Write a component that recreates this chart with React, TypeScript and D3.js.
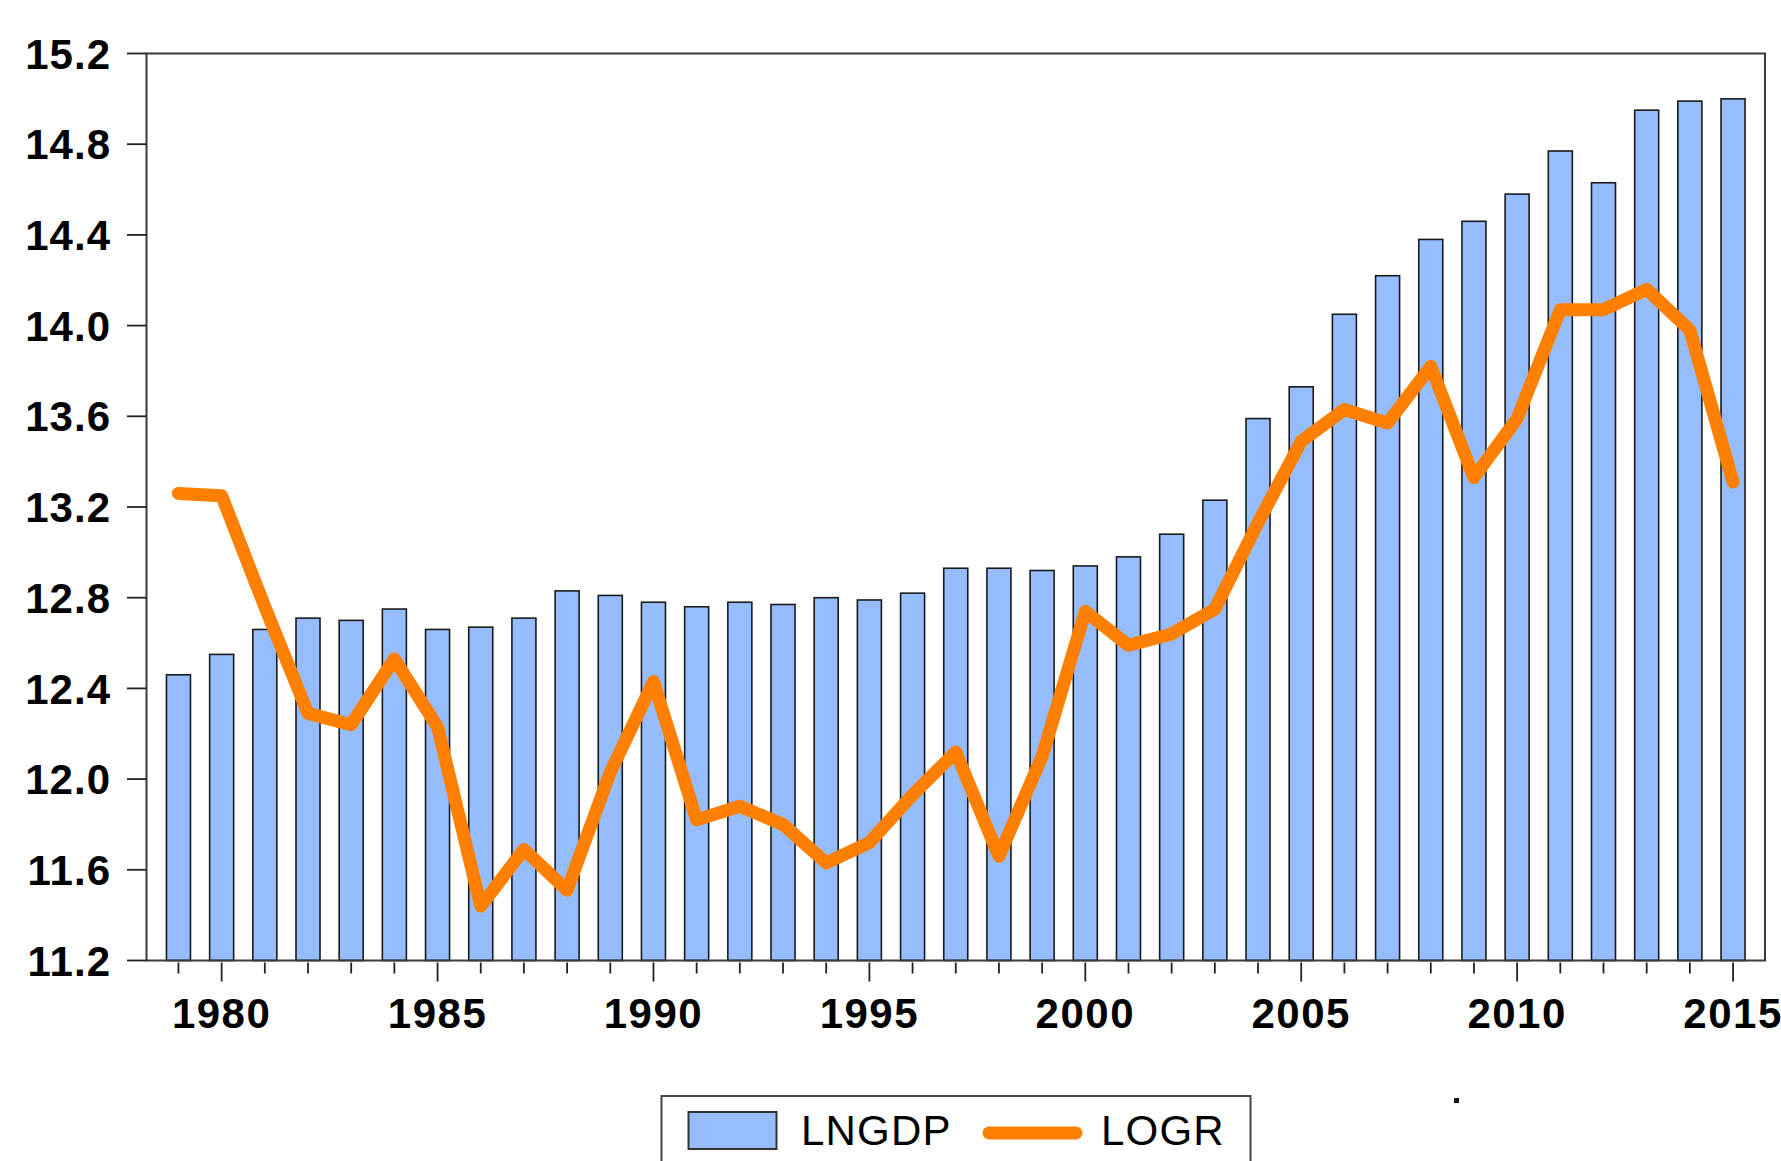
import React from "react";
import * as d3 from "d3";

const years: number[] = d3.range(1979, 2016);

const lngdp: number[] = [
  12.46, 12.55, 12.66, 12.71, 12.70, 12.75, 12.66, 12.67, 12.71, 12.83,
  12.81, 12.78, 12.76, 12.78, 12.77, 12.80, 12.79, 12.82, 12.93, 12.93,
  12.92, 12.94, 12.98, 13.08, 13.23, 13.59, 13.73, 14.05, 14.22, 14.38,
  14.46, 14.58, 14.77, 14.63, 14.95, 14.99, 15.00,
];

const logr: number[] = [
  13.26, 13.25, 12.76, 12.29, 12.24, 12.53, 12.23, 11.44, 11.69, 11.51,
  12.03, 12.43, 11.82, 11.88, 11.80, 11.63, 11.72, 11.93, 12.12, 11.66,
  12.10, 12.74, 12.59, 12.64, 12.75, 13.13, 13.49, 13.63, 13.57, 13.82,
  13.33, 13.59, 14.07, 14.07, 14.16, 13.98, 13.31,
];

const yTicks: number[] = [11.2, 11.6, 12.0, 12.4, 12.8, 13.2, 13.6, 14.0, 14.4, 14.8, 15.2];
const xLabels: number[] = [1980, 1985, 1990, 1995, 2000, 2005, 2010, 2015];
const seriesNames: string[] = ["LNGDP", "LOGR"];

const W = 1781;
const H = 1161;
const left = 146.5;
const right = 1765;
const top = 53.5;
const bottom = 960.5;

const BAR_FILL = "#95bdff";
const LINE_COLOR = "#ff8000";
const FONT = "'Liberation Sans', Arial, Helvetica, sans-serif";

export default function App() {
  const x = d3
    .scaleBand<number>()
    .domain(years)
    .range([left, right])
    .paddingInner(0.444)
    .paddingOuter(0.462);
  const y = d3.scaleLinear().domain([11.2, 15.2]).range([bottom, top]);
  const cx = (yr: number) => (x(yr) as number) + x.bandwidth() / 2;

  const line = d3
    .line<number>()
    .x((_, i) => cx(years[i]))
    .y((d) => y(d));

  return (
    <svg
      width={W}
      height={H}
      style={{ position: "absolute", left: 0, top: 0, background: "#fff" }}
      xmlns="http://www.w3.org/2000/svg"
    >
      <rect x={0} y={0} width={W} height={H} fill="#fff" />
      {/* bars */}
      {years.map((yr, i) => (
        <rect
          key={yr}
          x={x(yr)}
          y={y(lngdp[i])}
          width={x.bandwidth()}
          height={y(11.2) - y(lngdp[i])}
          fill={BAR_FILL}
          stroke="#1a1a1a"
          strokeWidth={1.6}
        />
      ))}
      {/* frame */}
      <path
        d={`M${left},${bottom} L${left},${top} L${right},${top} L${right},${bottom} Z`}
        fill="none"
        stroke="#3a3a3a"
        strokeWidth={2}
      />
      {/* y ticks */}
      {yTicks.map((t) => (
        <g key={t}>
          <line x1={127} x2={left} y1={y(t)} y2={y(t)} stroke="#222" strokeWidth={1.8} />
          <text
            x={111}
            y={y(t)}
            dy="0.36em"
            textAnchor="end"
            fontFamily={FONT}
            fontWeight="bold"
            fontSize={42}
            letterSpacing={1}
            fill="#000"
          >
            {t.toFixed(1)}
          </text>
        </g>
      ))}
      {/* x ticks */}
      {years.map((yr) => (
        <line
          key={yr}
          x1={cx(yr)}
          x2={cx(yr)}
          y1={bottom + 2}
          y2={yr % 5 === 0 ? bottom + 21 : bottom + 13}
          stroke="#222"
          strokeWidth={1.8}
        />
      ))}
      {xLabels.map((yr) => (
        <text
          key={yr}
          x={cx(yr)}
          y={1028}
          textAnchor="middle"
          fontFamily={FONT}
          fontWeight="bold"
          fontSize={42}
          letterSpacing={1.5}
          fill="#000"
        >
          {yr}
        </text>
      ))}
      {/* LOGR line */}
      <path
        d={line(logr) || ""}
        fill="none"
        stroke={LINE_COLOR}
        strokeWidth={13}
        strokeLinejoin="round"
        strokeLinecap="round"
      />
      {/* legend */}
      <rect x={661.5} y={1096} width={589} height={100} fill="#fff" stroke="#444" strokeWidth={2} />
      <rect x={688.5} y={1112} width={88} height={37} fill={BAR_FILL} stroke="#333" strokeWidth={2} />
      <text x={801} y={1145} fontFamily={FONT} fontSize={42} letterSpacing={1.2} fill="#000">
        {seriesNames[0]}
      </text>
      <line x1={989} x2={1076} y1={1133} y2={1133} stroke={LINE_COLOR} strokeWidth={13} strokeLinecap="round" />
      <text x={1101} y={1145} fontFamily={FONT} fontSize={42} letterSpacing={1.2} fill="#000">
        {seriesNames[1]}
      </text>
      <rect x={1454} y={1098} width={5} height={5} fill="#111" />
    </svg>
  );
}
